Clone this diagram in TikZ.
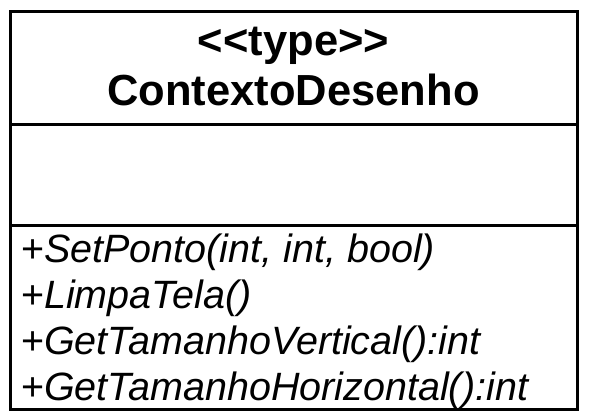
\documentclass[tikz,border=0pt]{standalone}
\usepackage{fontspec}
\setmainfont{Liberation Sans}
\begin{document}
\begin{tikzpicture}[x=1pt, y=-1pt,
	titlestyle/.style={font=\bfseries\fontsize{43.5}{48}\selectfont, anchor=base, inner sep=0pt},
	opstyle/.style={font=\fontsize{39.5}{44}\selectfont, anchor=base west, inner sep=0pt},
	boxline/.style={draw=black, line width=3pt}]
	\def \left {10}
	\def \right {577}
	\useasboundingbox (0,0) rectangle (589,420);

	\coordinate (nw) at (\left,12);
	\coordinate (se) at (\right,409);
	\draw[boxline] (nw) rectangle (se);
	\coordinate (d1w) at (\left,124);
	\coordinate (d1e) at (\right,124);
	\coordinate (d2w) at (\left,225);
	\coordinate (d2e) at (\right,225);
	\draw[boxline] (d1w) -- (d1e);
	\draw[boxline] (d2w) -- (d2e);

	\node(stereo) [titlestyle] at (293.5,56) {<{}<type>{}>};
	\node(name) [titlestyle] at (293.5,106) {ContextoDesenho};

	\foreach \op [count=\s] in {{SetPonto(int, int, bool)}, LimpaTela(), GetTamanhoVertical():int, GetTamanhoHorizontal():int} {
		\node(op\s) [opstyle] at (21,{216 + 46*\s}) {+\textit{\op}};
	};
\end{tikzpicture}
\end{document}
